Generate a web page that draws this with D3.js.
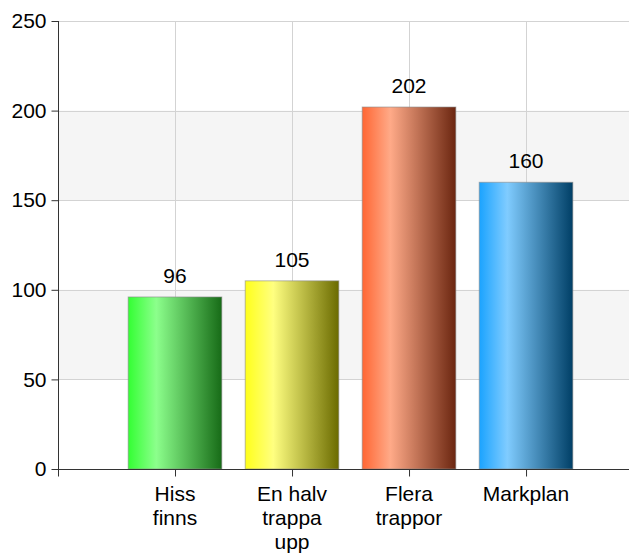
<!DOCTYPE html>
<html><head><meta charset="utf-8">
<script src="https://cdn.jsdelivr.net/npm/d3@7"></script>
<style>html,body{margin:0;padding:0;background:#fff;}svg{display:block;font-family:"Liberation Sans",Arial,sans-serif;}</style>
</head><body>
<svg id="c" width="631" height="553"></svg>
<script>
const categories = [["Hiss","finns"],["En halv","trappa","upp"],["Flera","trappor"],["Markplan"]];
const values = [96, 105, 202, 160];
const yTicks = [0, 50, 100, 150, 200, 250];
const colorStops = [
  ["#33ff33", "#8cff8c", "#176b17"],
  ["#ffff1a", "#ffff80", "#6b6b00"],
  ["#ff6633", "#ffaa88", "#6b2610"],
  ["#1aa3ff", "#80ccff", "#003f66"]
];

(function(){
const svg = d3.select("#c");
const pL = 58, pR = 629, pT = 21, pB = 469;
const x = d3.scaleLinear().domain([0, 4.88]).range([pL, pR]);
const y = d3.scaleLinear().domain([0, 250]).range([pB, pT]);

const bands = [[50,100],[150,200]];
svg.selectAll("rect.band").data(bands).enter().append("rect")
  .attr("x", pL).attr("width", pR-pL)
  .attr("y", d=>y(d[1])).attr("height", d=>y(d[0])-y(d[1]))
  .attr("fill", "#f5f5f5");

svg.selectAll("line.hg").data(yTicks.filter(d=>d>0)).enter().append("line")
  .attr("x1", pL).attr("x2", pR)
  .attr("y1", d=>Math.round(y(d))+0.5).attr("y2", d=>Math.round(y(d))+0.5)
  .attr("stroke", "#d3d3d3").attr("stroke-width", 1);

svg.selectAll("line.vg").data(values.map((v,i)=>i+1)).enter().append("line")
  .attr("x1", d=>Math.round(x(d))+0.5).attr("x2", d=>Math.round(x(d))+0.5)
  .attr("y1", pT).attr("y2", pB)
  .attr("stroke", "#d3d3d3").attr("stroke-width", 1);

const defs = svg.append("defs");
colorStops.forEach((c,i)=>{
  const g = defs.append("linearGradient").attr("id","g"+i)
    .attr("x1","0%").attr("x2","100%").attr("y1","0%").attr("y2","0%");
  g.append("stop").attr("offset","0%").attr("stop-color",c[0]);
  g.append("stop").attr("offset","30%").attr("stop-color",c[1]);
  g.append("stop").attr("offset","100%").attr("stop-color",c[2]);
});

const bw = x(0.8) - x(0);
svg.selectAll("rect.bar").data(values).enter().append("rect")
  .attr("x", (d,i)=>x(i+1)-bw/2).attr("width", bw)
  .attr("y", d=>y(d)).attr("height", d=>y(0)-y(d))
  .attr("fill", (d,i)=>"url(#g"+i+")")
  .attr("stroke", "#888").attr("stroke-opacity", 0.6).attr("stroke-width", 1);

svg.selectAll("text.val").data(values).enter().append("text")
  .attr("x", (d,i)=>x(i+1)).attr("y", d=>y(d)-14)
  .attr("text-anchor","middle").attr("font-size", 21).attr("fill","#000")
  .text(d=>d);

const yAxis = d3.axisLeft(y).tickValues(yTicks).tickSize(7).tickPadding(5);
const ga = svg.append("g").attr("transform", `translate(${pL+0.5},0)`).call(yAxis);
ga.select(".domain").attr("d", `M0,${pT}V${pB}`).attr("stroke","#333");
ga.selectAll(".tick line").attr("stroke","#333");
ga.selectAll(".tick text").attr("font-size",21).attr("fill","#000").attr("font-family","Liberation Sans, Arial, sans-serif");

const xAxis = d3.axisBottom(x).tickValues([0,1,2,3,4]).tickSize(7).tickFormat("");
const gx = svg.append("g").attr("transform", `translate(0,${pB+0.5})`).call(xAxis);
gx.select(".domain").attr("d", `M${pL},0H${pR}`).attr("stroke","#333");
gx.selectAll(".tick line").attr("stroke","#333");

const cl = svg.selectAll("text.cat").data(categories).enter().append("text")
  .attr("text-anchor","middle").attr("font-size",21).attr("fill","#000");
cl.each(function(lines,i){
  const t = d3.select(this);
  lines.forEach((ln,j)=>{
    t.append("tspan").attr("x", x(i+1)).attr("y", 501 + j*24).text(ln);
  });
});
})();
</script>
</body></html>
